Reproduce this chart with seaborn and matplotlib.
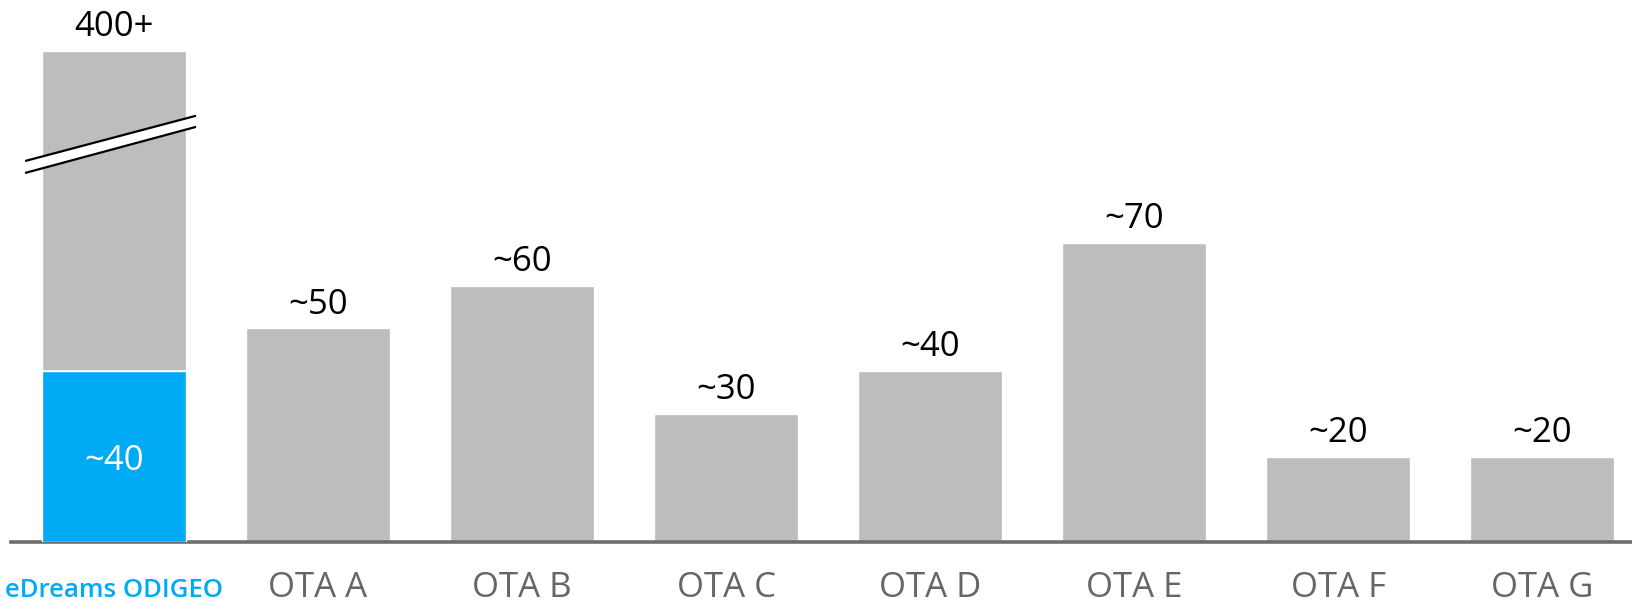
import matplotlib
matplotlib.use("Agg")
import matplotlib.pyplot as plt
import matplotlib.transforms as mtransforms
import seaborn as sns
import pandas as pd

# Number of partner airlines / content sources per online travel agency
categories = ["eDreams ODIGEO", "OTA A", "OTA B", "OTA C", "OTA D", "OTA E", "OTA F", "OTA G"]
values = [40, 50, 60, 30, 40, 70, 20, 20]
value_labels = ["~40", "~50", "~60", "~30", "~40", "~70", "~20", "~20"]

# eDreams ODIGEO total is shown as a broken bar (height on the compressed scale)
edreams_total_label = "400+"
edreams_total_drawn = 115

GREY = "#bdbdbd"
BLUE = "#00aaf5"
AXIS = "#6e6e6e"
TICK = "#666666"

sns.set_theme(style="white")
plt.rcParams["font.family"] = ["Open Sans", "DejaVu Sans"]

fig = plt.figure(figsize=(16.32, 6.06), dpi=100)
W, H = 1632, 606
ax = fig.add_axes([11 / W, 64 / H, 1 - 11 / W, 542 / H])

bar_w = 0.706
df = pd.DataFrame({"cat": categories,
                   "h": [edreams_total_drawn] + values[1:]})
sns.barplot(data=df, x="cat", y="h", order=categories, color=GREY,
            width=bar_w, saturation=1, ax=ax, zorder=2)

# eDreams ODIGEO own segment
seg = pd.DataFrame({"cat": [categories[0]], "h": [values[0]]})
sns.barplot(data=seg, x="cat", y="h", order=categories, color=BLUE,
            width=bar_w, saturation=1, ax=ax, zorder=3)
ax.hlines(values[0], -bar_w / 2, bar_w / 2, color="white", lw=1.2, zorder=4)

ax.set_xlim(-0.505, 7.441)
ax.set_ylim(0, 126.9)

# break marks across the total bar
x0, x1 = -0.436, 0.402
lo = [86.4, 97.2]
hi = [89.2, 99.8]
ax.fill_between([x0, x1], lo, hi, color="white", zorder=5, lw=0)
ax.plot([x0, x1], lo, color="black", lw=1.6, zorder=6, solid_capstyle="butt")
ax.plot([x0, x1], hi, color="black", lw=1.6, zorder=6, solid_capstyle="butt")

# value labels
for i, (v, lab) in enumerate(zip(values, value_labels)):
    if i == 0:
        ax.annotate(lab, (i, v / 2), xytext=(0, -3), textcoords="offset points",
                    ha="center", va="center", color="white",
                    fontsize=25, zorder=7)
    else:
        ax.annotate(lab, (i, v), xytext=(0, 5), textcoords="offset points",
                    ha="center", va="bottom", fontsize=25, color="black")
ax.annotate(edreams_total_label, (0, edreams_total_drawn), xytext=(0, 5),
            textcoords="offset points", ha="center", va="bottom",
            fontsize=25, color="black")

# axes styling
for s in ["top", "right", "left"]:
    ax.spines[s].set_visible(False)
ax.spines["bottom"].set_color(AXIS)
ax.spines["bottom"].set_linewidth(2.6)
ax.set_yticks([])
ax.set_xlabel("")
ax.set_ylabel("")
ax.tick_params(axis="x", length=0, pad=21)
ax.set_xticks(range(len(categories)))
ax.set_xticklabels(categories)
for i, t in enumerate(ax.get_xticklabels()):
    if i == 0:
        t.set_color(BLUE)
        t.set_fontsize(18.5)
        t.set_fontweight("semibold")
        t.set_transform(t.get_transform() + mtransforms.ScaledTranslation(
            0, -0.07, fig.dpi_scale_trans))
    else:
        t.set_color(TICK)
        t.set_fontsize(25)

fig.savefig("out.png", dpi=100)
